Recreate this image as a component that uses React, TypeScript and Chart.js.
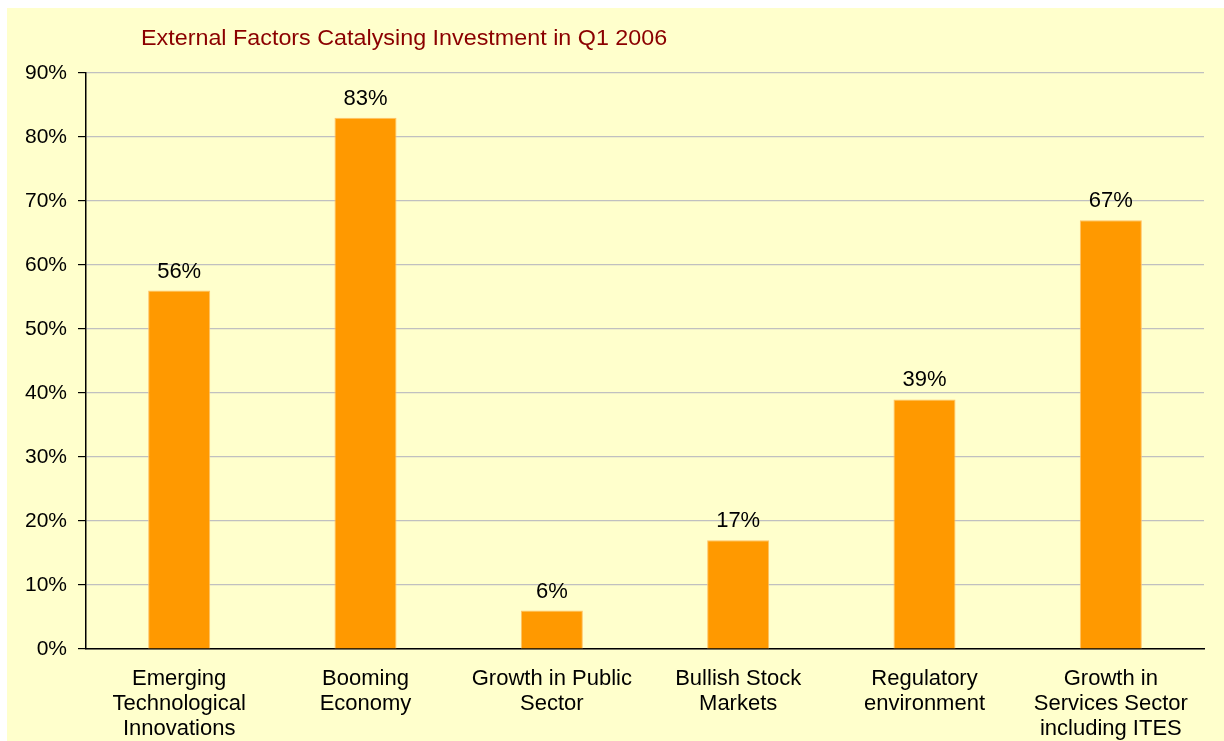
import React, { useEffect, useRef } from "react";
import { Chart, registerables } from "chart.js";

Chart.register(...registerables);

const categories: string[][] = [
  ["Emerging", "Technological", "Innovations"],
  ["Booming", "Economy"],
  ["Growth in Public", "Sector"],
  ["Bullish Stock", "Markets"],
  ["Regulatory", "environment"],
  ["Growth in", "Services Sector", "including ITES"],
];
const values: number[] = [56, 83, 6, 17, 39, 67];
const yTicks: number[] = [0, 10, 20, 30, 40, 50, 60, 70, 80, 90];
const titleText = "External Factors Catalysing Investment in Q1 2006";

const FONT = "'Liberation Sans', Arial, sans-serif";

export default function App() {
  const ref = useRef<HTMLCanvasElement | null>(null);
  useEffect(() => {
    if (!ref.current) return;
    const labelPlugin = {
      id: "barLabels",
      afterDatasetsDraw(chart: any) {
        const ctx = chart.ctx;
        const meta = chart.getDatasetMeta(0);
        ctx.save();
        ctx.font = `22px ${FONT}`;
        ctx.fillStyle = "#000";
        ctx.textAlign = "center";
        ctx.textBaseline = "alphabetic";
        meta.data.forEach((el: any, i: number) => {
          ctx.fillText(values[i] + "%", el.x, el.y - 13);
        });
        ctx.restore();
      },
    };
    const titlePlugin = {
      id: "leftTitle",
      afterDraw(chart: any) {
        const ctx = chart.ctx;
        ctx.save();
        ctx.font = `22px ${FONT}`;
        ctx.fillStyle = "#8B0000";
        ctx.textAlign = "left";
        ctx.textBaseline = "alphabetic";
        ctx.translate(chart.chartArea.left + 55, 37);
        ctx.scale(1.06, 1);
        ctx.fillText(titleText, 0, 0);
        ctx.restore();
      },
    };
    const chart = new Chart(ref.current, {
      type: "bar",
      data: {
        labels: categories,
        datasets: [
          {
            data: values,
            backgroundColor: "#FF9900",
            borderColor: "#FFC266",
            borderWidth: 1,
            barPercentage: 0.333,
            categoryPercentage: 1,
          },
        ],
      },
      options: {
        animation: false,
        responsive: true,
        maintainAspectRatio: false,
        layout: { padding: { top: 65, right: 20, left: 0, bottom: 0 } },
        plugins: {
          legend: { display: false },
          tooltip: { enabled: false },
          title: { display: false },
        },
        scales: {
          x: {
            afterFit: (s: any) => {
              s.height = 92;
            },
            grid: { display: false, drawTicks: false },
            border: { color: "#000", width: 1.5 },
            ticks: {
              color: "#000",
              font: { family: FONT, size: 22, lineHeight: 1.14 },
              padding: 17,
              maxRotation: 0,
              autoSkip: false,
            },
          },
          y: {
            min: 0,
            max: 90,
            afterFit: (s: any) => {
              s.width = 79;
            },
            afterBuildTicks: (s: any) => {
              s.ticks = yTicks.map((v) => ({ value: v }));
            },
            grid: { color: "#C0C0C0", lineWidth: 1.2, tickLength: 8, tickColor: "#000" },
            border: { color: "#000", width: 1.5 },
            ticks: {
              color: "#000",
              font: { family: FONT, size: 21 },
              padding: 11,
              callback: (v: any) => v + "%",
            },
          },
        },
      },
      plugins: [labelPlugin, titlePlugin],
    });
    return () => chart.destroy();
  }, []);
  return (
    <div
      style={{
        position: "fixed",
        left: 7,
        top: 8,
        right: 0,
        bottom: 0,
        background: "#FFFFCC",
      }}
    >
      <canvas ref={ref} />
    </div>
  );
}
